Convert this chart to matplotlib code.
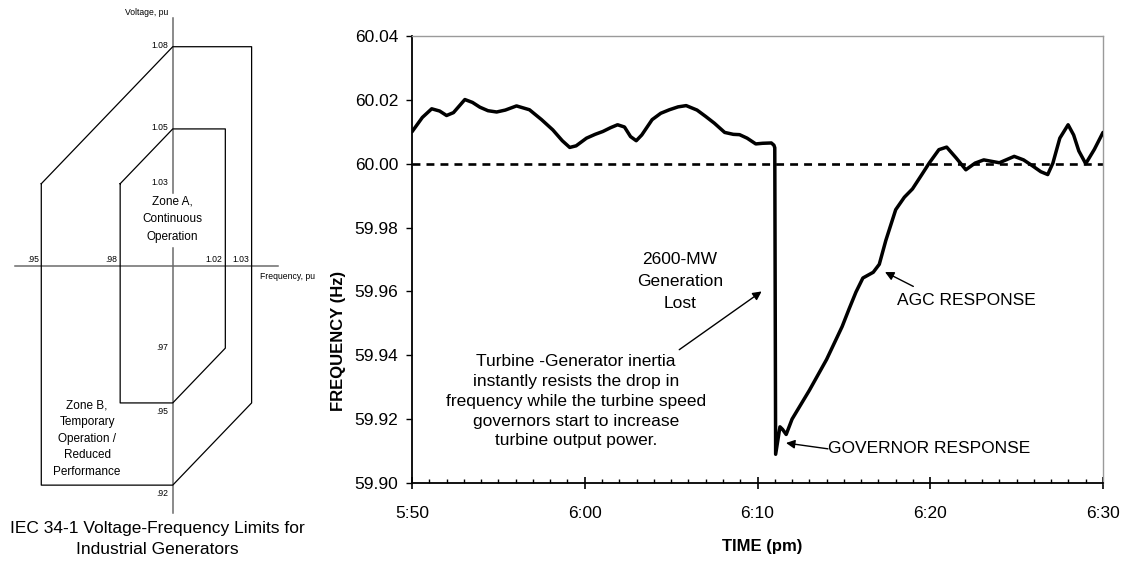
import matplotlib
matplotlib.use("Agg")
import matplotlib.pyplot as plt
from matplotlib.ticker import MultipleLocator

plt.rcParams['font.family'] = ['Liberation Sans', 'DejaVu Sans']

# ---------------- data ----------------
# Right chart: minutes after 5:50 pm and frequency (Hz)
time_min = [0, 0.6, 1.14, 1.6, 2.0, 2.4, 3.06, 3.5, 3.93, 4.4, 4.9, 5.4, 6.05, 6.8,
            7.5, 8.15, 8.7, 9.13, 9.5, 10.1, 10.6, 11.05, 11.5, 11.9, 12.3, 12.65,
            12.98, 13.3, 13.9, 14.4, 14.9, 15.4, 15.87, 16.5, 17.0, 17.5, 18.1, 18.6,
            18.96, 19.4, 19.9, 20.3, 20.8, 20.95, 21.0, 21.05, 21.3, 21.45, 21.66,
            22.0, 23.0, 24.0, 24.9, 25.3, 25.7, 26.1, 26.7, 27.05, 27.43, 28.0, 28.5,
            28.97, 29.5, 29.94, 30.5, 30.95, 31.5, 32.06, 32.6, 33.1, 33.5, 34.0,
            34.86, 35.4, 35.9, 36.4, 36.8, 37.1, 37.5, 37.98, 38.3, 38.6, 39.0, 39.5,
            40.0]
freq_hz = [60.0100, 60.0145, 60.0172, 60.0165, 60.0151, 60.0160, 60.0201, 60.0192,
           60.0177, 60.0166, 60.0162, 60.0168, 60.0181, 60.0169, 60.0138, 60.0106,
           60.0072, 60.0051, 60.0056, 60.0080, 60.0092, 60.0101, 60.0113, 60.0122,
           60.0115, 60.0085, 60.0072, 60.0090, 60.0138, 60.0158, 60.0169, 60.0178,
           60.0182, 60.0168, 60.0148, 60.0127, 60.0098, 60.0092, 60.0091, 60.0080,
           60.0062, 60.0064, 60.0065, 60.0058, 60.0050, 59.9090, 59.9176, 59.9168,
           59.9152, 59.9200, 59.9290, 59.9387, 59.9490, 59.9545, 59.9598, 59.9642,
           59.9660, 59.9685, 59.9760, 59.9856, 59.9895, 59.9921, 59.9965, 60.0002,
           60.0044, 60.0052, 60.0018, 59.9981, 60.0002, 60.0012, 60.0008, 60.0003,
           60.0023, 60.0012, 59.9994, 59.9975, 59.9966, 60.0002, 60.0080, 60.0122,
           60.0090, 60.0040, 60.0000, 60.0045, 60.0098]
nominal_hz = 60.00
x_tick_pos = [0, 10, 20, 30, 40]
x_tick_labels = ["5:50", "6:00", "6:10", "6:20", "6:30"]
y_ticks = [59.90, 59.92, 59.94, 59.96, 59.98, 60.00, 60.02, 60.04]

# Left diagram: IEC 34-1 zones (frequency pu, voltage pu)
zoneB_freq = [0.95, 1.00, 1.03, 1.03, 1.00, 0.95, 0.95]
zoneB_volt = [1.03, 1.08, 1.08, 0.95, 0.92, 0.92, 1.03]
zoneA_freq = [0.98, 1.00, 1.02, 1.02, 1.00, 0.98, 0.98]
zoneA_volt = [1.03, 1.05, 1.05, 0.97, 0.95, 0.95, 1.03]
volt_labels_above = [1.08, 1.05, 1.03, 0.97]
volt_labels_below = [0.95, 0.92]
freq_labels = [0.95, 0.98, 1.02, 1.03]

W, H = 1129, 561
fig = plt.figure(figsize=(W / 100, H / 100), dpi=100)

def fx(px):
    return px / W

def fy(py):
    return 1 - py / H

# ---------------- left diagram ----------------
axl = fig.add_axes([fx(10), fy(515), (290 - 10) / W, (515 - 10) / H])
axl.set_xlim(0.9381, 1.0446)
axl.set_ylim(0.9091, 1.0934)
axl.axis('off')

axis_col = '#6b6b6b'
axl.plot([1.0, 1.0], [1.0905, 1.0266], color=axis_col, lw=1.1)
axl.plot([1.0, 1.0], [1.0066, 0.9099], color=axis_col, lw=1.1)
axl.plot([0.940, 1.040], [1.0, 1.0], color=axis_col, lw=1.1)

axl.plot(zoneB_freq, zoneB_volt, color='black', lw=0.9)
axl.plot(zoneA_freq, zoneA_volt, color='black', lw=0.9)

small = 6.2
for v in volt_labels_above:
    s = f"{v:.2f}" if v >= 1 else f"{v:.2f}"[1:]
    axl.text(0.9982, v + 0.0004, s, ha='right', va='center', fontsize=small)
for v in volt_labels_below:
    s = f"{v:.2f}"[1:]
    axl.text(0.9982, v - 0.0030, s, ha='right', va='center', fontsize=small)
for f in freq_labels:
    s = f"{f:.2f}" if f >= 1 else f"{f:.2f}"[1:]
    axl.text(f - 0.0010, 1.0025, s, ha='right', va='center', fontsize=small)

axl.text(0.9983, 1.0924, "Voltage, pu", ha='right', va='center', fontsize=small,
         clip_on=False)
axl.text(1.0332, 0.9960, "Frequency, pu", ha='left', va='center', fontsize=small,
         clip_on=False)

axl.text(1.0, 1.0170, "Zone A,\nContinuous\nOperation", ha='center', va='center',
         fontsize=8.5, linespacing=1.6)
axl.text(0.9674, 0.9370, "Zone B,\nTemporary\nOperation /\nReduced\nPerformance",
         ha='center', va='center', fontsize=8.5, linespacing=1.5)

fig.text(fx(157.5), fy(539), "IEC 34-1 Voltage-Frequency Limits for\nIndustrial Generators",
         ha='center', va='center', fontsize=12.5, linespacing=1.45)

# ---------------- right chart ----------------
ax = fig.add_axes([fx(412), fy(483), (1103 - 412) / W, (483 - 36) / H])
ax.set_xlim(0, 40)
ax.set_ylim(59.90, 60.04)

ax.axhline(nominal_hz, color='black', lw=1.9, linestyle=(0, (3.0, 2.3)), zorder=2)
ax.plot(time_min, freq_hz, color='black', lw=2.5, solid_joinstyle='round',
        solid_capstyle='round', zorder=3)

for side in ['top', 'right']:
    ax.spines[side].set_color('#9a9a9a')
    ax.spines[side].set_linewidth(1.0)
for side in ['left', 'bottom']:
    ax.spines[side].set_color('black')
    ax.spines[side].set_linewidth(1.3)

ax.set_yticks(y_ticks)
ax.set_yticklabels([f"{v:.2f}" for v in y_ticks])
ax.set_xticks(x_tick_pos)
ax.set_xticklabels(x_tick_labels)
ax.xaxis.set_minor_locator(MultipleLocator(1))
ax.tick_params(axis='y', direction='out', length=4, width=1, labelsize=12.5, pad=6,
               colors='black')
ax.tick_params(axis='x', which='major', direction='inout', length=9, width=1.2,
               labelsize=12.5, pad=12)
ax.tick_params(axis='x', which='minor', direction='in', length=3, width=1)

ax.set_ylabel("FREQUENCY (Hz)", fontsize=12, fontweight='bold')
ax.yaxis.set_label_coords(-0.095, 0.317)
ax.set_xlabel("TIME (pm)", fontsize=12, fontweight='bold')
ax.xaxis.set_label_coords(0.5065, -0.126)

fs = 12.5
ap = dict(arrowstyle='-|>', lw=1.0, color='black', mutation_scale=13,
          shrinkA=0, shrinkB=0)
ax.text(15.51, 59.9632, "2600-MW\nGeneration\nLost", ha='center', va='center',
        fontsize=fs, linespacing=1.6)
ax.annotate("", xy=(20.24, 59.9600), xytext=(15.47, 59.94175), arrowprops=ap)
ax.text(9.49, 59.92556,
        "Turbine -Generator inertia\ninstantly resists the drop in\n"
        "frequency while the turbine speed\ngovernors start to increase\n"
        "turbine output power.", ha='center', va='center', fontsize=fs,
        linespacing=1.4)
ax.text(28.06, 59.9572, "AGC RESPONSE", ha='left', va='center', fontsize=fs)
ax.annotate("", xy=(27.38, 59.96608), xytext=(29.02, 59.96157), arrowprops=ap)
ax.text(24.10, 59.91074, "GOVERNOR RESPONSE", ha='left', va='center', fontsize=fs)
ax.annotate("", xy=(21.65, 59.91253), xytext=(24.08, 59.9107), arrowprops=ap)

fig.savefig("out.png", dpi=100)
